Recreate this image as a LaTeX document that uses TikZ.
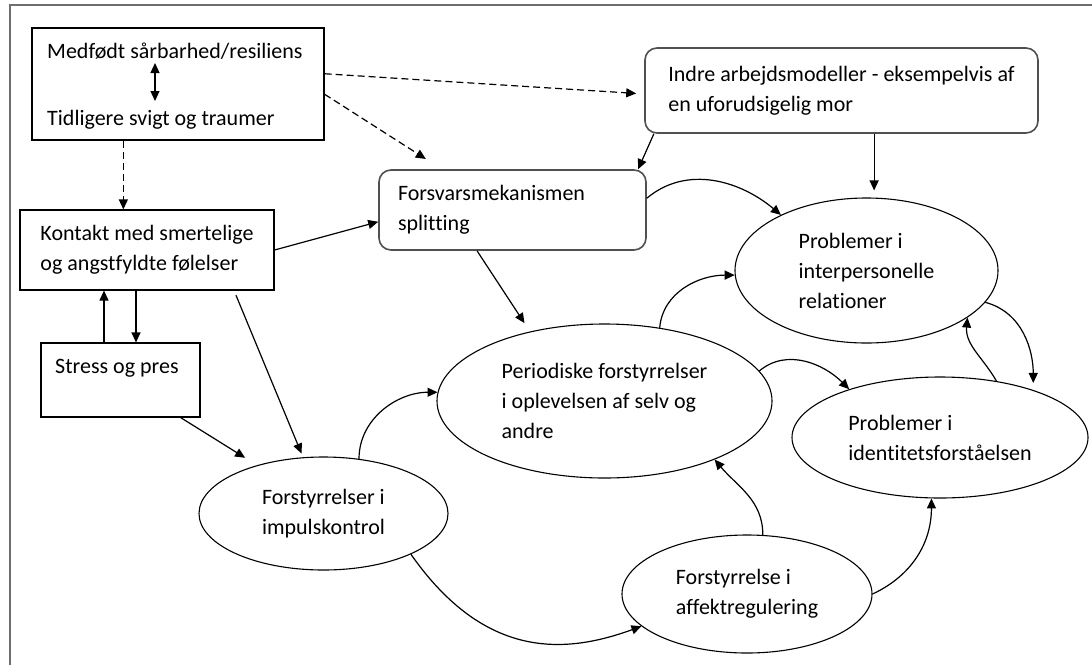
\documentclass[tikz,border=0pt]{standalone}
\usepackage{fontspec}
\setmainfont{Carlito}[Ligatures=NoCommon]
\usetikzlibrary{arrows.meta,shapes.geometric,calc}
\definecolor{framegray}{RGB}{110,110,110}
\definecolor{boxgray}{RGB}{80,80,80}
\begin{document}
\begin{tikzpicture}[x=1pt,y=1pt,
  every node/.style={font=\fontsize{22}{30}\selectfont},
  frame/.style={draw=framegray,line width=1.5pt},
  sqbox/.style={draw=black,line width=1.2pt,rectangle,inner sep=0pt},
  rbox/.style={draw=boxgray,line width=1.6pt,rounded corners=12pt,rectangle,align=left,inner ysep=0pt},
  oval/.style={draw=black,line width=1.1pt,ellipse,inner sep=0pt,align=left},
  lbl/.style={inner sep=0pt},
  arr/.style={line width=1.2pt,-{Triangle[length=10pt,width=9pt]}},
  dblarr/.style={line width=1.2pt,{Triangle[length=10pt,width=9pt]}-{Triangle[length=10pt,width=9pt]}},
  dasharr/.style={arr,dash pattern=on 7pt off 4pt}
]
\useasboundingbox (0,0) rectangle (1092,-665);

% page frame (top and left edges)
\draw[frame] (10,-665) -- (10,-5) -- (1092,-5);

% rectangular boxes
\node[sqbox,minimum width=292,minimum height=112] (origin) at (178,-84) {};
\node[lbl,anchor=base west] (medfodt) at (47,-58) {Medfødt sårbarhed/resiliens};
\node[lbl,anchor=base west] (tidlig) at (47,-125) {Tidligere svigt og traumer};
\node[sqbox,minimum width=254,minimum height=80,align=left] (contact) at (147,-250)
  {Kontakt med smertelige\\og angstfyldte følelser};
\node[sqbox,minimum width=159,minimum height=74] (stress) at (120.5,-380) {};
\node[lbl,anchor=base west] (stresslbl) at (55,-373) {Stress og pres};

% rounded boxes
\node[rbox,minimum height=80,text width=229,inner xsep=19] (splitting) at (512.5,-210)
  {Forsvarsmekanismen\\splitting};
\node[rbox,minimum width=393,minimum height=85] (model) at (841.5,-90.5)
  {Indre arbejdsmodeller - eksempelvis af\\en uforudsigelig mor};

% ellipses
\node[oval,minimum width=249,minimum height=113] (impulse) at (323.5,-513.5)
  {Forstyrrelser i\\impulskontrol};
\node[oval,minimum width=335,minimum height=154] (selfother) at (604.5,-401)
  {Periodiske forstyrrelser\\i oplevelsen af selv og\\andre};
\node[oval,minimum width=250,minimum height=118] (affect) at (747,-594)
  {Forstyrrelse i\\affektregulering};
\node[oval,minimum width=296,minimum height=121] (identity) at (940,-437.5)
  {Problemer i\\identitetsforståelsen};
\node[oval,minimum width=263,minimum height=145] (relations) at (866.5,-270.5)
  {Problemer i\\interpersonelle\\relationer};

% interaction inside the top box
\draw[dblarr] ([xshift=108pt,yshift=-5pt]medfodt.base west) -- ([xshift=108pt,yshift=24pt]tidlig.base west);

% dashed influences
\draw[dasharr,shorten >=8pt] (origin.4.7) -- (model.181.6);
\draw[dasharr,shorten >=19pt] (origin.-4.3) -- (splitting.150);
\draw[dasharr] (origin.-134.5) -- (origin.-134.5 |- contact.north);

% contact <-> stress
\coordinate (upx) at ($(stress.north)+(-16.5,0)$);
\coordinate (downx) at ($(stress.north)+(15.5,0)$);
\draw[arr] (upx) -- (upx |- contact.south);
\draw[arr] (downx |- contact.south) -- (downx);

% straight connectors
\draw[arr] (contact.east) -- (splitting.185);
\draw[arr] (model.193) -- (splitting.18);
\draw[arr,shorten >=7pt] (model.-53.5) -- (model.-53.5 |- relations.north);
\draw[arr,shorten >=10pt] (splitting.-131) -- (selfother.137);
\draw[arr,shorten <=5pt,shorten >=4pt] (contact.-25) -- (impulse.110);
\draw[arr,shorten >=14pt] (stress.-32) -- (impulse.144);

% curved connectors
\draw[arr] (splitting.5) to[out=40,in=140] (relations.147);
\draw[arr] (selfother.53) to[out=85,in=180] (relations.182);
\draw[arr] (impulse.57) to[out=90,in=180] (selfother.177);
\draw[arr] (impulse.-25) to[out=-55,in=200,out distance=130pt,in distance=80pt] (affect.197);
\draw[arr] (affect.75) to[out=90,in=-50] (selfother.-28);
\draw[arr] (affect.east) to[out=25,in=-90] (identity.-98);
\draw[arr] (selfother.11) to[out=40,in=135] (identity.152);
\draw[arr,shorten >=7pt] (relations.-15) to[out=-15,in=90] (identity.27);
\draw[arr] (identity.45) to[out=120,in=-95] (relations.-25);
\end{tikzpicture}
\end{document}
